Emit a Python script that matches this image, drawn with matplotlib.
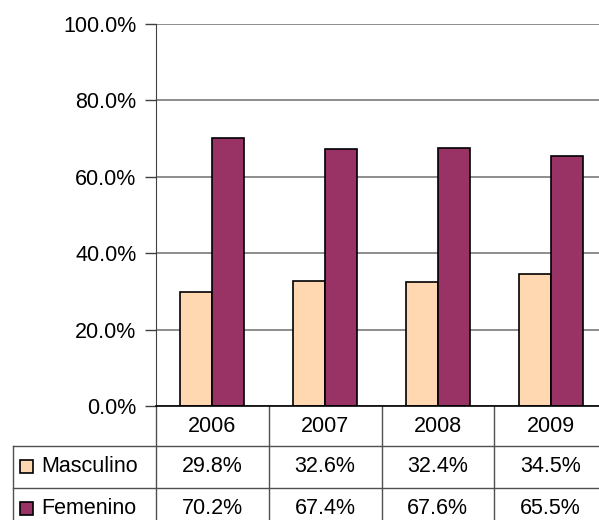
import matplotlib
matplotlib.use('Agg')
import matplotlib.pyplot as plt
from matplotlib.lines import Line2D
from matplotlib.patches import Rectangle
from matplotlib.transforms import blended_transform_factory

plt.rcParams['font.family'] = ['Liberation Sans', 'DejaVu Sans']

# datos
years = ['2006', '2007', '2008', '2009']
masculino = [29.8, 32.6, 32.4, 34.5]
femenino = [70.2, 67.4, 67.6, 65.5]
series = ['Masculino', 'Femenino']
colors = ['#FFD7B0', '#993366']
yticks = [0, 20, 40, 60, 80, 100]
fs = 15.5

W, H = 599, 520
fig = plt.figure(figsize=(W / 100, H / 100), dpi=100)
# eje: x de 156 a 607 px, y de 24 a 406 px
ax = fig.add_axes([156 / W, (H - 406) / H, (607 - 156) / W, (406 - 24) / H])

x = range(len(years))
bw = 0.283
ax.bar([i - bw / 2 for i in x], masculino, bw, color=colors[0], edgecolor='black', lw=1.2, zorder=3)
ax.bar([i + bw / 2 for i in x], femenino, bw, color=colors[1], edgecolor='black', lw=1.2, zorder=3)

ax.set_xlim(-0.5, len(years) - 0.5)
ax.set_ylim(0, 100)
ax.set_yticks(yticks)
ax.set_yticklabels(['%.1f%%' % v for v in yticks], fontsize=fs)
ax.tick_params(axis='y', length=8, width=1, color='#404040', pad=6)
ax.set_xticks([])
ax.grid(axis='y', color='#7a7a7a', lw=1.2)
for s in ['top', 'right', 'bottom']:
    ax.spines[s].set_visible(False)
ax.spines['left'].set_color('#404040')
ax.axhline(0, color='black', lw=1.2, zorder=4, clip_on=False)

# tabla de datos
tr = blended_transform_factory(ax.transData, ax.transAxes)
def ya(py):
    return (406 - py) / (406 - 24)

lc = '#505050'
for b in [i + 0.5 for i in range(len(years) - 1)]:
    ax.add_line(Line2D([b, b], [ya(406), ya(530)], transform=tr, color=lc, lw=1, clip_on=False))
ax.add_line(Line2D([-0.5, -0.5], [ya(406), ya(530)], transform=tr, color=lc, lw=1, clip_on=False))
for py in [446, 488]:
    fig.add_artist(Line2D([13 / W, 1], [(H - py) / H] * 2, color=lc, lw=1))
fig.add_artist(Line2D([13 / W, 13 / W], [(H - 446) / H, 0], color=lc, lw=1))

for i, yr in enumerate(years):
    ax.text(i, ya(426), yr, transform=tr, ha='center', va='center', fontsize=fs)

rows = [masculino, femenino]
centers = [467, 509]
for vals, name, c, py in zip(rows, series, colors, centers):
    for i, v in enumerate(vals):
        ax.text(i, ya(py), '%.1f%%' % v, transform=tr, ha='center', va='center', fontsize=fs)
    fig.add_artist(Rectangle((20 / W, (H - py - 6) / H), 13 / W, 13 / H,
                             facecolor=c, edgecolor='black', lw=1.2))
    fig.text(41 / W, (H - py) / H, name, ha='left', va='center', fontsize=fs)

plt.savefig('out.png', dpi=100)
